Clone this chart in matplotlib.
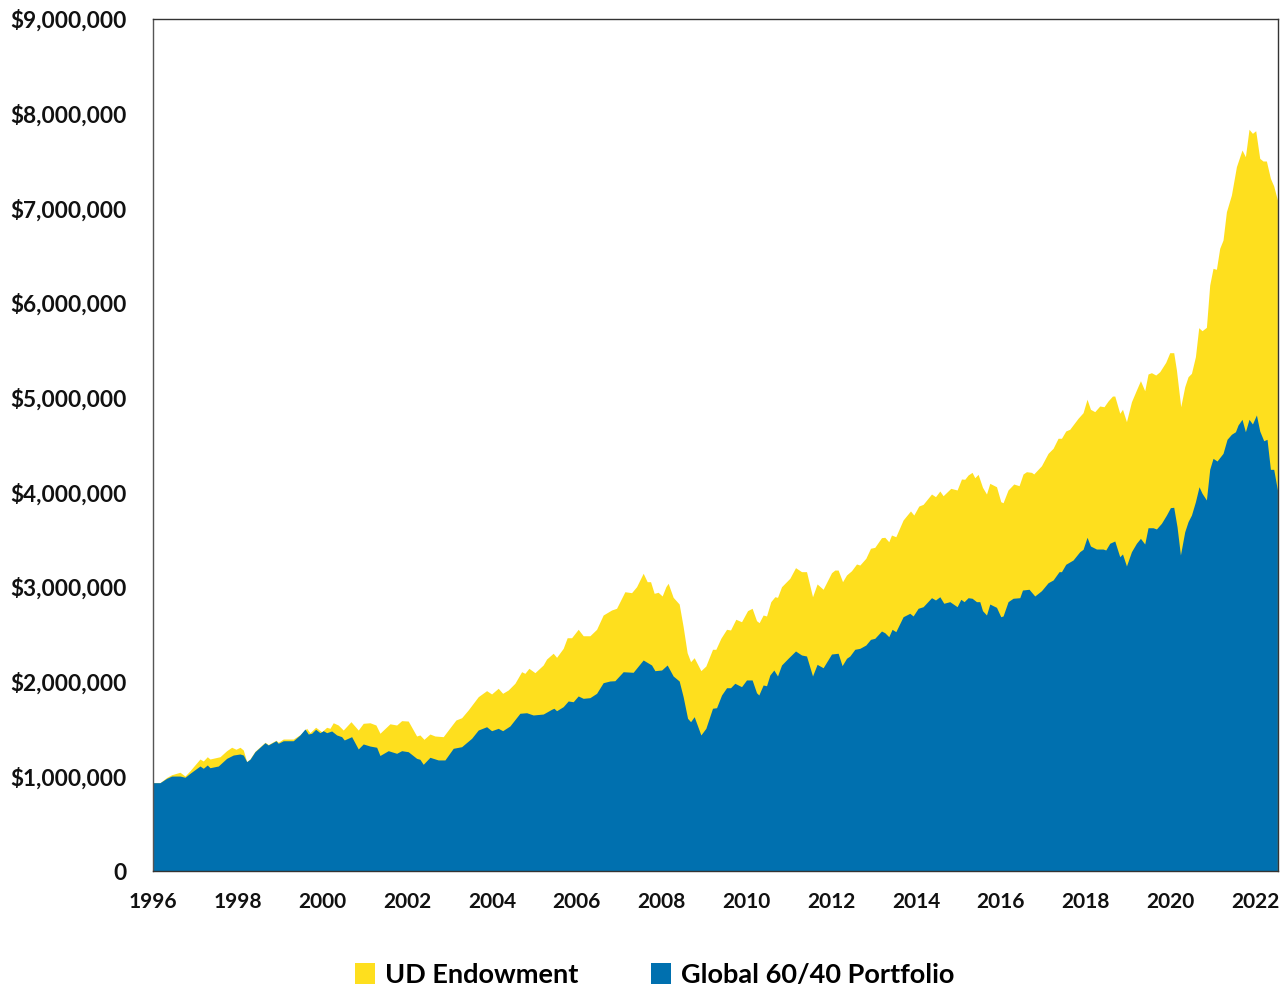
import numpy as np
import matplotlib
matplotlib.use("Agg")
import matplotlib.pyplot as plt
from matplotlib.ticker import FuncFormatter
from matplotlib.patches import Patch

# ---------------- data (values in $ millions) ----------------
ud_years = [1996.00, 1996.165, 1996.323, 1996.441, 1996.637, 1996.755, 1996.873, 1997.108, 1997.186, 1997.281,
            1997.344, 1997.580, 1997.738, 1997.856, 1997.958, 1998.052, 1998.130, 1998.210, 1998.288, 1998.406,
            1998.642, 1998.719, 1998.901, 1998.955, 1999.073, 1999.309, 1999.467, 1999.625, 1999.703, 1999.837,
            1999.979, 2000.097, 2000.175, 2000.252, 2000.370, 2000.488, 2000.670, 2000.842, 2000.960, 2001.118,
            2001.259, 2001.354, 2001.590, 2001.748, 2001.866, 2002.021, 2002.219, 2002.297, 2002.392, 2002.533,
            2002.651, 2002.847, 2002.965, 2003.146, 2003.281, 2003.436, 2003.672, 2003.870, 2003.988, 2004.144,
            2004.248, 2004.380, 2004.538, 2004.696, 2004.774, 2004.868, 2005.010, 2005.205, 2005.285, 2005.441,
            2005.521, 2005.677, 2005.771, 2005.875, 2006.031, 2006.149, 2006.307, 2006.465, 2006.620, 2006.818,
            2006.936, 2007.132, 2007.290, 2007.408, 2007.564, 2007.658, 2007.738, 2007.823, 2007.917, 2008.012,
            2008.099, 2008.153, 2008.271, 2008.413, 2008.507, 2008.601, 2008.682, 2008.767, 2008.925, 2009.042,
            2009.200, 2009.278, 2009.396, 2009.531, 2009.625, 2009.750, 2009.884, 2010.026, 2010.134, 2010.238,
            2010.300, 2010.394, 2010.474, 2010.575, 2010.670, 2010.733, 2010.828, 2011.024, 2011.158, 2011.299,
            2011.417, 2011.559, 2011.667, 2011.809, 2012.007, 2012.085, 2012.163, 2012.267, 2012.361, 2012.479,
            2012.597, 2012.675, 2012.816, 2012.927, 2013.028, 2013.186, 2013.264, 2013.358, 2013.422, 2013.524,
            2013.696, 2013.870, 2013.948, 2014.066, 2014.168, 2014.366, 2014.460, 2014.562, 2014.640, 2014.821,
            2014.970, 2015.073, 2015.151, 2015.229, 2015.323, 2015.387, 2015.465, 2015.569, 2015.663, 2015.741,
            2015.899, 2016.000, 2016.054, 2016.172, 2016.307, 2016.432, 2016.526, 2016.606, 2016.724, 2016.778,
            2016.960, 2017.116, 2017.234, 2017.352, 2017.432, 2017.533, 2017.627, 2017.823, 2017.941, 2018.035,
            2018.116, 2018.217, 2018.335, 2018.436, 2018.531, 2018.635, 2018.689, 2018.807, 2018.871, 2018.965,
            2019.083, 2019.200, 2019.295, 2019.396, 2019.474, 2019.554, 2019.656, 2019.750, 2019.891, 2019.986,
            2020.080, 2020.144, 2020.245, 2020.340, 2020.418, 2020.498, 2020.592, 2020.670, 2020.748, 2020.851,
            2020.929, 2021.007, 2021.087, 2021.165, 2021.243, 2021.323, 2021.441, 2021.559, 2021.691, 2021.771,
            2021.856, 2021.937, 2022.014, 2022.109, 2022.186, 2022.266, 2022.361, 2022.439, 2022.526]
ud_values = [0.933, 0.933, 0.988, 1.017, 1.043, 1.003, 1.059, 1.183, 1.162, 1.207,
             1.183, 1.207, 1.271, 1.307, 1.286, 1.307, 1.278, 1.155, 1.185, 1.265,
             1.360, 1.336, 1.381, 1.360, 1.394, 1.394, 1.440, 1.507, 1.461, 1.518,
             1.471, 1.518, 1.507, 1.566, 1.542, 1.489, 1.577, 1.489, 1.560, 1.566,
             1.542, 1.455, 1.555, 1.542, 1.588, 1.584, 1.426, 1.437, 1.391, 1.447,
             1.426, 1.419, 1.489, 1.595, 1.619, 1.701, 1.841, 1.905, 1.870, 1.930,
             1.877, 1.912, 1.983, 2.105, 2.088, 2.141, 2.095, 2.176, 2.239, 2.300,
             2.257, 2.352, 2.464, 2.464, 2.553, 2.485, 2.485, 2.553, 2.704, 2.757,
             2.775, 2.950, 2.940, 3.003, 3.145, 3.056, 3.056, 2.933, 2.944, 2.905,
             3.003, 3.039, 2.891, 2.820, 2.581, 2.306, 2.211, 2.253, 2.116, 2.165,
             2.342, 2.342, 2.458, 2.553, 2.546, 2.659, 2.633, 2.750, 2.775, 2.644,
             2.623, 2.704, 2.694, 2.845, 2.897, 2.891, 3.003, 3.092, 3.204, 3.162,
             3.162, 2.897, 3.032, 2.976, 3.151, 3.179, 3.179, 3.056, 3.127, 3.172,
             3.243, 3.232, 3.303, 3.409, 3.419, 3.521, 3.525, 3.478, 3.549, 3.531,
             3.708, 3.803, 3.760, 3.855, 3.873, 3.982, 3.954, 4.014, 3.964, 4.042,
             4.025, 4.141, 4.138, 4.183, 4.211, 4.154, 4.190, 4.053, 3.982, 4.095,
             4.059, 3.901, 3.890, 4.025, 4.088, 4.070, 4.194, 4.218, 4.211, 4.194,
             4.281, 4.412, 4.465, 4.571, 4.571, 4.648, 4.666, 4.782, 4.841, 4.983,
             4.877, 4.852, 4.912, 4.904, 4.965, 5.017, 5.017, 4.835, 4.877, 4.746,
             4.957, 5.081, 5.179, 5.073, 5.250, 5.264, 5.239, 5.274, 5.373, 5.475,
             5.475, 5.292, 4.904, 5.116, 5.221, 5.257, 5.433, 5.739, 5.707, 5.743,
             6.190, 6.366, 6.356, 6.578, 6.665, 6.964, 7.141, 7.440, 7.616, 7.545,
             7.835, 7.792, 7.820, 7.528, 7.500, 7.500, 7.317, 7.236, 7.088]

g6040_years = [1996.00, 1996.165, 1996.323, 1996.441, 1996.637, 1996.755, 1996.873, 1997.108, 1997.186, 1997.281,
               1997.344, 1997.540, 1997.738, 1997.894, 1998.052, 1998.130, 1998.210, 1998.288, 1998.406, 1998.642,
               1998.719, 1998.901, 1998.955, 1999.073, 1999.309, 1999.467, 1999.585, 1999.663, 1999.743, 1999.837,
               1999.939, 2000.017, 2000.097, 2000.215, 2000.333, 2000.450, 2000.512, 2000.686, 2000.842, 2000.960,
               2001.118, 2001.276, 2001.354, 2001.550, 2001.748, 2001.866, 2002.021, 2002.219, 2002.297, 2002.375,
               2002.533, 2002.729, 2002.887, 2003.083, 2003.281, 2003.517, 2003.672, 2003.870, 2003.988, 2004.144,
               2004.248, 2004.420, 2004.656, 2004.814, 2004.969, 2005.205, 2005.403, 2005.458, 2005.521, 2005.677,
               2005.795, 2005.913, 2006.031, 2006.149, 2006.307, 2006.465, 2006.620, 2006.778, 2006.896, 2007.092,
               2007.328, 2007.564, 2007.762, 2007.840, 2007.998, 2008.130, 2008.271, 2008.413, 2008.507, 2008.611,
               2008.682, 2008.767, 2008.925, 2009.042, 2009.200, 2009.295, 2009.413, 2009.531, 2009.625, 2009.726,
               2009.884, 2010.002, 2010.134, 2010.238, 2010.292, 2010.394, 2010.474, 2010.552, 2010.646, 2010.733,
               2010.828, 2010.983, 2011.158, 2011.299, 2011.417, 2011.559, 2011.667, 2011.809, 2012.007, 2012.163,
               2012.257, 2012.361, 2012.439, 2012.557, 2012.675, 2012.816, 2012.927, 2013.028, 2013.186, 2013.264,
               2013.358, 2013.436, 2013.524, 2013.696, 2013.854, 2013.932, 2014.050, 2014.168, 2014.366, 2014.460,
               2014.562, 2014.656, 2014.798, 2014.970, 2015.057, 2015.135, 2015.229, 2015.323, 2015.427, 2015.505,
               2015.569, 2015.663, 2015.741, 2015.899, 2016.000, 2016.054, 2016.172, 2016.290, 2016.448, 2016.512,
               2016.667, 2016.802, 2016.960, 2017.116, 2017.234, 2017.375, 2017.432, 2017.533, 2017.705, 2017.863,
               2017.941, 2018.035, 2018.116, 2018.257, 2018.413, 2018.477, 2018.571, 2018.689, 2018.807, 2018.871,
               2018.965, 2019.083, 2019.200, 2019.295, 2019.396, 2019.474, 2019.592, 2019.672, 2019.790, 2019.908,
               2020.002, 2020.080, 2020.158, 2020.238, 2020.340, 2020.418, 2020.498, 2020.592, 2020.677, 2020.748,
               2020.851, 2020.929, 2021.007, 2021.102, 2021.243, 2021.338, 2021.441, 2021.536, 2021.597, 2021.691,
               2021.771, 2021.856, 2021.937, 2022.031, 2022.109, 2022.203, 2022.281, 2022.361, 2022.439, 2022.526]
g6040_values = [0.933, 0.933, 0.979, 1.003, 1.003, 0.990, 1.032, 1.109, 1.085, 1.120,
                1.091, 1.109, 1.190, 1.225, 1.236, 1.225, 1.155, 1.180, 1.260, 1.355,
                1.331, 1.376, 1.349, 1.376, 1.376, 1.437, 1.500, 1.447, 1.455, 1.497,
                1.461, 1.482, 1.461, 1.479, 1.437, 1.419, 1.384, 1.419, 1.289, 1.342,
                1.320, 1.307, 1.220, 1.271, 1.243, 1.271, 1.260, 1.190, 1.180, 1.127,
                1.201, 1.173, 1.173, 1.296, 1.313, 1.402, 1.489, 1.524, 1.482, 1.507,
                1.482, 1.532, 1.666, 1.672, 1.648, 1.658, 1.708, 1.719, 1.693, 1.736,
                1.796, 1.788, 1.849, 1.824, 1.831, 1.877, 1.989, 2.007, 2.010, 2.105,
                2.099, 2.229, 2.176, 2.116, 2.123, 2.176, 2.060, 2.007, 1.841, 1.613,
                1.577, 1.630, 1.437, 1.507, 1.719, 1.725, 1.859, 1.936, 1.936, 1.983,
                1.947, 2.018, 2.018, 1.883, 1.859, 1.965, 1.957, 2.070, 2.123, 2.060,
                2.176, 2.247, 2.324, 2.282, 2.271, 2.060, 2.183, 2.147, 2.292, 2.300,
                2.169, 2.247, 2.271, 2.342, 2.352, 2.387, 2.447, 2.458, 2.535, 2.517,
                2.475, 2.553, 2.528, 2.686, 2.722, 2.694, 2.775, 2.792, 2.887, 2.863,
                2.897, 2.828, 2.845, 2.792, 2.870, 2.845, 2.887, 2.881, 2.845, 2.845,
                2.750, 2.704, 2.820, 2.785, 2.686, 2.694, 2.845, 2.881, 2.887, 2.968,
                2.976, 2.905, 2.961, 3.045, 3.074, 3.162, 3.162, 3.240, 3.285, 3.373,
                3.398, 3.525, 3.433, 3.401, 3.401, 3.391, 3.462, 3.486, 3.320, 3.349,
                3.222, 3.373, 3.462, 3.514, 3.454, 3.626, 3.626, 3.613, 3.673, 3.760,
                3.838, 3.842, 3.637, 3.338, 3.584, 3.690, 3.760, 3.901, 4.059, 3.990,
                3.919, 4.243, 4.359, 4.331, 4.412, 4.560, 4.613, 4.640, 4.711, 4.771,
                4.640, 4.771, 4.722, 4.817, 4.648, 4.545, 4.560, 4.243, 4.243, 4.025]

series_names = ["UD Endowment", "Global 60/40 Portfolio"]
x_tick_years = list(range(1996, 2023, 2))
y_ticks = [0, 1e6, 2e6, 3e6, 4e6, 5e6, 6e6, 7e6, 8e6, 9e6]

# ---------------- style ----------------
YELLOW = "#FEDF1E"
BLUE = "#0070AF"
FONT = "Lato"
plt.rcParams["font.family"] = [FONT, "DejaVu Sans"]

fig = plt.figure(figsize=(12.81, 9.85), dpi=100)
ax = fig.add_axes([153 / 1281, 114 / 985, 1125 / 1281, 852 / 985])

ud = np.array(ud_values) * 1e6
g = np.array(g6040_values) * 1e6
ax.fill_between(ud_years, ud, 0, color=YELLOW, linewidth=0, label=series_names[0])
ax.fill_between(g6040_years, g, 0, color=BLUE, linewidth=0, label=series_names[1])

ax.set_xlim(1996, 2022.54)
ax.set_ylim(0, 9e6)
ax.set_xticks(x_tick_years)
ax.set_xticklabels([str(y) for y in x_tick_years])
ax.set_yticks(y_ticks)
ax.yaxis.set_major_formatter(FuncFormatter(lambda v, p: "0" if v == 0 else f"${v:,.0f}"))

ax.tick_params(axis="both", length=0, colors="#111111")
ax.tick_params(axis="y", pad=19, labelsize=16.3)
ax.tick_params(axis="x", pad=15, labelsize=15)
for lab in ax.get_xticklabels() + ax.get_yticklabels():
    lab.set_fontweight("bold")

for sp in ax.spines.values():
    sp.set_color("#333333")
    sp.set_linewidth(1.0)
ax.spines["left"].set_color("#555555")

handles = [Patch(facecolor=YELLOW, edgecolor="none"), Patch(facecolor=BLUE, edgecolor="none")]
leg = fig.legend(handles, series_names, loc="center", bbox_to_anchor=(0.511, 0.010), ncol=2,
                 frameon=False, prop={"family": FONT, "weight": "bold", "size": 19.5},
                 handlelength=0.75, handleheight=0.8, handletextpad=0.35, columnspacing=2.7)

fig.savefig("out.png", dpi=100)
